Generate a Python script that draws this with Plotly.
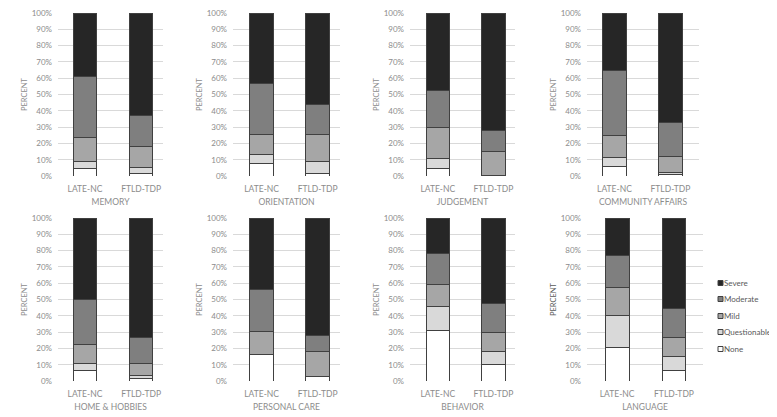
import plotly.graph_objects as go

domains = ["MEMORY", "ORIENTATION", "JUDGEMENT", "COMMUNITY AFFAIRS",
           "HOME & HOBBIES", "PERSONAL CARE", "BEHAVIOR", "LANGUAGE"]
groups = ["LATE-NC", "FTLD-TDP"]
levels = ["None", "Questionable", "Mild", "Moderate", "Severe"]

# percent per domain, LATE-NC then FTLD-TDP
none_late = [4.3, 7.6, 4.7, 5.7, 6.6, 16.2, 30.7, 20.5]
none_ftld = [1.6, 1.8, 0.4, 0.8, 1.6, 2.7, 10.2, 6.2]
quest_late = [4.9, 5.3, 6.2, 5.6, 4.3, 0.0, 14.8, 19.6]
quest_ftld = [3.7, 7.4, 0.0, 1.2, 1.7, 0.0, 8.2, 8.9]
mild_late = [14.5, 12.7, 19.0, 13.3, 11.2, 14.1, 13.9, 17.1]
mild_ftld = [13.1, 16.4, 14.4, 9.7, 7.4, 15.7, 11.1, 11.6]
mod_late = [37.3, 31.0, 22.4, 39.9, 28.1, 25.6, 19.1, 19.7]
mod_ftld = [18.9, 18.0, 12.9, 21.1, 15.9, 9.5, 18.0, 17.7]
sev_late = [39.0, 43.4, 47.7, 35.5, 49.8, 44.1, 21.5, 23.1]
sev_ftld = [62.7, 56.4, 72.3, 67.2, 73.4, 72.1, 52.5, 55.6]

series = {
    "None": (none_late, none_ftld),
    "Questionable": (quest_late, quest_ftld),
    "Mild": (mild_late, mild_ftld),
    "Moderate": (mod_late, mod_ftld),
    "Severe": (sev_late, sev_ftld),
}
colors = {"None": "#ffffff", "Questionable": "#d9d9d9", "Mild": "#a6a6a6",
          "Moderate": "#7f7f7f", "Severe": "#262626"}

# page has an 8px body margin, so the figure starts at (8, 8) on screen
OFF = 8
W, H = 777 - OFF, 417 - OFF


def px(x):
    return (x - OFF) / W


def py(y):
    return 1 - (y - OFF) / H


# plot areas in screen pixels (left, right, top, bottom) and x ranges
xpix = [(58, 163), (233, 340), (410, 515), (587, 699),
        (58, 163), (233, 340), (410, 515), (587, 703)]
xranges = [(-0.48, 1.39), (-0.51, 1.40), (-0.50, 1.39), (-0.49, 1.51),
           (-0.48, 1.39), (-0.51, 1.40), (-0.50, 1.39), (-0.53, 1.51)]
ypix = [(13, 176)] * 4 + [(218, 381)] * 4

fig = go.Figure()
grey = "#8c8c8c"
font = "Lato, sans-serif"

for i, d in enumerate(domains):
    n = "" if i == 0 else str(i + 1)
    for lev in levels:
        late, ftld = series[lev]
        fig.add_trace(go.Bar(
            x=groups, y=[late[i], ftld[i]], name=lev,
            marker=dict(color=colors[lev], line=dict(color="#404040", width=1)),
            xaxis="x" + n, yaxis="y" + n, showlegend=False,
        ))
    x0, x1 = xpix[i]
    y0, y1 = ypix[i]
    fig.layout["xaxis" + n] = dict(
        domain=[px(x0), px(x1)], anchor="y" + n, range=list(xranges[i]),
        title=dict(text=d, font=dict(size=8.5, color=grey), standoff=6),
        tickfont=dict(size=8.5, color=grey), ticklabelstandoff=6,
        showgrid=False, showline=False, ticks="", automargin=False,
    )
    fig.layout["yaxis" + n] = dict(
        domain=[py(y1), py(y0)], anchor="x" + n,
        range=[0, 100], dtick=10, ticksuffix="%",
        tickfont=dict(size=8, color=grey), ticklabelstandoff=5,
        ticklabeloverflow="allow",
        title=dict(text="PERCENT", font=dict(size=7.5, color="#595959" if i == 7 else grey), standoff=3),
        showgrid=True, gridcolor="#d9d9d9", gridwidth=1, zeroline=False,
        showline=False, ticks="", automargin=False,
    )

# legend drawn beside the last panel
leg_y = [283, 299, 316, 332, 349]
for lev, yy in zip(reversed(levels), leg_y):
    fig.add_shape(type="rect", xref="paper", yref="paper",
                  x0=px(718), x1=px(723), y0=py(yy + 2.5), y1=py(yy - 2.5),
                  fillcolor=colors[lev], line=dict(color="#404040", width=1))
    fig.add_annotation(text=lev, xref="paper", yref="paper", x=px(722), y=py(yy),
                       xanchor="left", yanchor="middle", showarrow=False,
                       font=dict(size=8, color="#595959"))

fig.update_layout(
    width=W, height=H, barmode="stack", bargap=0.58,
    margin=dict(l=0, r=0, t=0, b=0),
    plot_bgcolor="white", paper_bgcolor="white",
    font=dict(family=font, color=grey),
    showlegend=False,
)

fig.write_html("out.html")
